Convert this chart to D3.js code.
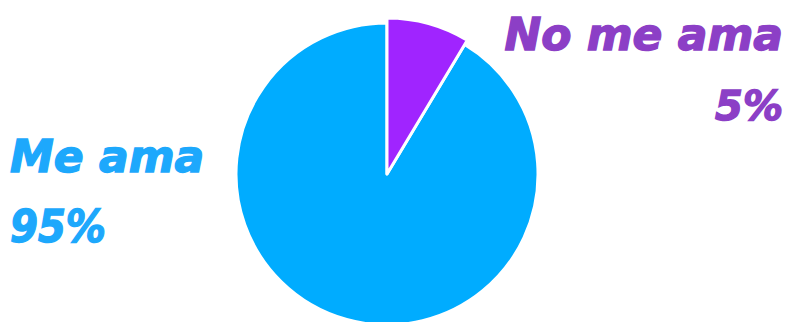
<!DOCTYPE html>
<html lang="es">
<head>
    <meta charset="UTF-8">
    <title>Me ama / No me ama</title>
    <script src="https://cdnjs.cloudflare.com/ajax/libs/d3/7.8.5/d3.min.js"></script>
    <style>
        body { margin: 0; background: #fff; }
        svg { display: block; }
        .lbl { font-family: "DejaVu Sans", sans-serif; font-weight: bold; font-style: italic; }
    </style>
</head>
<body>
    <div id="chart"></div>
    <script>
        // slice sizes as drawn, and the label text shown next to them
        const categories = ["No me ama", "Me ama"];
        const shares = [8.6, 91.4];
        const labelPct = ["5%", "95%"];
        const sliceColors = ["#a024ff", "#00acff"];
        const textColors = ["#8c3fc6", "#1da8fc"];

        const width = 794, height = 322;
        const cx = 387, cy = 174, r = 151;

        const svg = d3.select("#chart").append("svg")
            .attr("width", width)
            .attr("height", height);

        const pie = d3.pie().sort(null).value(d => d)(shares);

        const g = svg.append("g").attr("transform", `translate(${cx},${cy})`);

        g.selectAll("path")
            .data(pie)
            .join("path")
            .attr("d", (d, i) => d3.arc().innerRadius(0).outerRadius(i === 0 ? r + 5 : r)(d))
            .attr("fill", (d, i) => sliceColors[i])
            .attr("stroke", "#fff")
            .attr("stroke-width", 3)
            .attr("stroke-linejoin", "round");

        // redraw the small slice on top so its white border stays visible
        g.append("path")
            .attr("d", d3.arc().innerRadius(0).outerRadius(r + 5)(pie[0]))
            .attr("fill", sliceColors[0])
            .attr("stroke", "#fff")
            .attr("stroke-width", 3)
            .attr("stroke-linejoin", "round");

        function addLabel(x, y, fs, len, txt, color, anchor) {
            const t = svg.append("text").attr("class", "lbl")
                .attr("x", x).attr("y", y)
                .attr("text-anchor", anchor)
                .attr("font-size", fs)
                .attr("fill", color)
                .attr("stroke", color)
                .attr("stroke-width", 1.4)
                .text(txt);
            if (len) t.attr("textLength", len).attr("lengthAdjust", "spacingAndGlyphs");
        }

        // right labels
        addLabel(783, 50, 44, null, categories[0], textColors[0], "end");
        addLabel(783, 120, 40, null, labelPct[0], textColors[0], "end");

        // left labels
        addLabel(10, 172, 44, null, categories[1], textColors[1], "start");
        addLabel(10, 242, 44, 96, labelPct[1], textColors[1], "start");
    </script>
</body>
</html>
